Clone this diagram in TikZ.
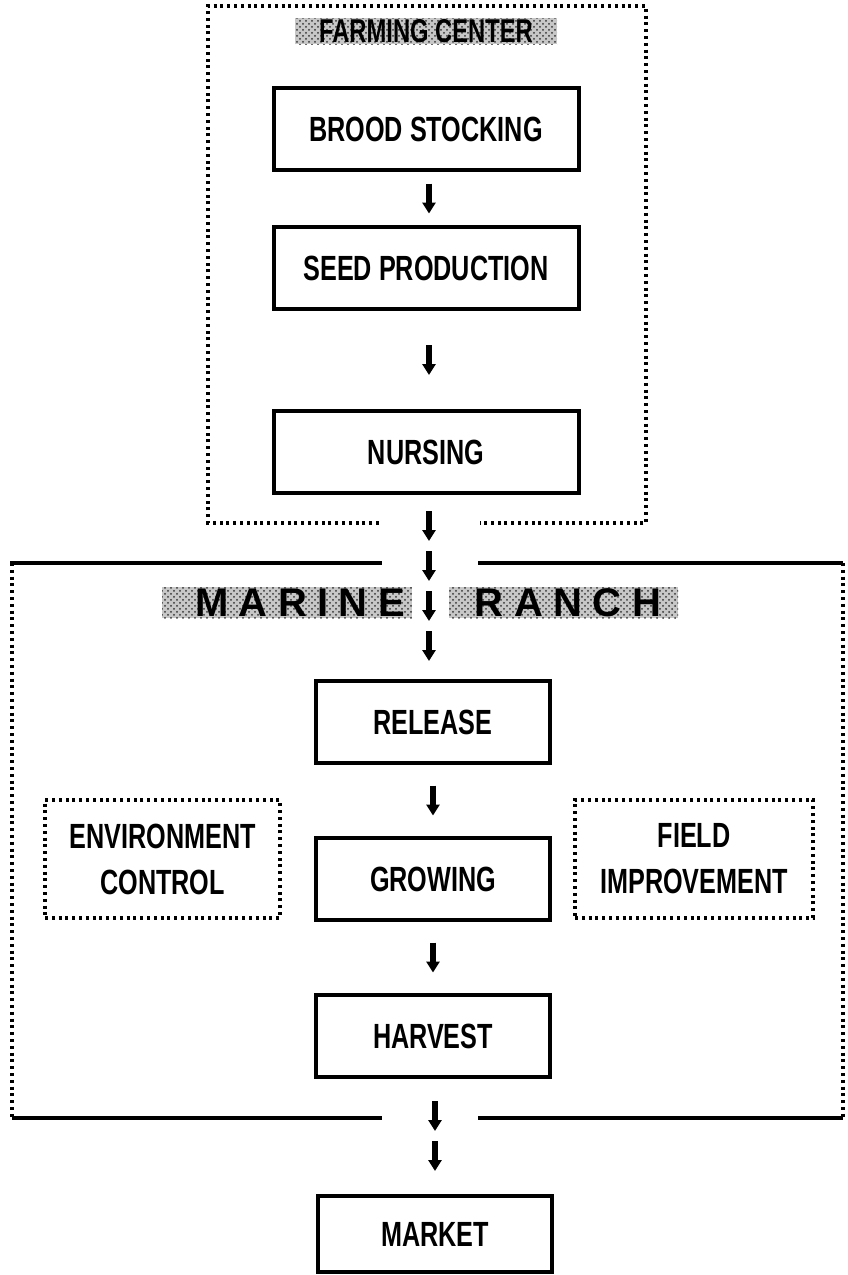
\documentclass[tikz,border=0pt]{standalone}
\usepackage{fontspec}
\setmainfont{Liberation Sans}[FakeStretch=0.72]
\newfontfamily\widefont{Liberation Sans}[LetterSpace=26]
\usetikzlibrary{arrows.meta,patterns,calc}
\begin{document}
\begin{tikzpicture}[x=0.5pt,y=-0.5pt,
  txt/.style={font=\bfseries\fontsize{17.5}{23}\selectfont},
  solidbox/.style={draw, line width=2pt, inner sep=0pt, txt, align=center},
  dotline/.style={line width=1.6pt, dash pattern=on 1.5pt off 1.9pt},
  dotbox/.style={draw, dotline, inner sep=0pt, txt, align=center},
  arr/.style={line width=2.6pt, -{Triangle[width=6.5pt,length=5.5pt]}},
  heavy/.style={line width=2.3pt},
  stipple/.style={fill=black!22, postaction={pattern=crosshatch dots, pattern color=black!80}, inner sep=0pt}
]
\useasboundingbox (0,0) rectangle (847,1275);

% Farming center frame
\draw[dotline] (379,523) -- (208,523) -- (208,6) -- (646,6) -- (646,523) -- (480,523);
\node[stipple, minimum width=131pt, minimum height=13pt] (fcbg) at (426,31) {};
\node[font=\bfseries\fontsize{16.5}{18}\selectfont] (fc) at (fcbg.center) {FARMING CENTER};

% Farming boxes
\node[solidbox, minimum width=152.5pt, minimum height=41pt] (brood) at (426,129) {BROOD STOCKING};
\node[solidbox, minimum width=152.5pt, minimum height=41pt] (seed) at (426,268) {SEED PRODUCTION};
\node[solidbox, minimum width=152.5pt, minimum height=41pt] (nurs) at (426,452) {NURSING};

\coordinate (m1) at ($(brood.south)!0.5!(seed.north)$);
\coordinate (m2) at ($(seed.south)!0.5!(nurs.north)$);
\draw[arr] ($(m1)+(3,-15)$) -- ($(m1)+(3,15)$);
\draw[arr] ($(m2)+(3,-15)$) -- ($(m2)+(3,15)$);

% Marine ranch frame
\draw[heavy] (10,563) -- (382,563);
\draw[heavy] (478,563) -- (843,563);
\draw[heavy] (12,1118) -- (382,1118);
\draw[heavy] (478,1118) -- (843,1118);
\draw[dotline] (12,563) -- (12,1118);
\draw[dotline] (843,563) -- (843,1118);

\node[stipple, minimum width=125pt, minimum height=15.5pt] (mbg) at (287,602.5) {};
\node[stipple, minimum width=114.5pt, minimum height=15.5pt] (rbg) at (563.5,602.5) {};
\node[font=\widefont\bfseries\fontsize{20}{21}\selectfont] (mar) at (300,603) {MARINE};
\node[font=\widefont\bfseries\fontsize{20}{21}\selectfont] (ran) at (568,603) {RANCH};

% Ranch boxes
\node[solidbox, minimum width=117pt, minimum height=41pt] (rel) at (433,722) {RELEASE};
\node[solidbox, minimum width=117pt, minimum height=41pt] (grow) at (433,879) {GROWING};
\node[solidbox, minimum width=117pt, minimum height=41pt] (harv) at (433,1036) {HARVEST};
\node[dotbox, minimum width=117.5pt, minimum height=59pt] (env) at (162.5,859) {ENVIRONMENT\\CONTROL};
\node[dotbox, minimum width=119pt, minimum height=59pt] (field) at (694,859) {FIELD\\IMPROVEMENT};

% arrows between nursing and release
\coordinate (a0) at ($(nurs.south)+(3,16)$);
\draw[arr] (a0) -- ++(0,30);
\draw[arr] ($(a0)+(0,40)$) -- ++(0,30);
\draw[arr] ($(a0)+(0,80)$) -- ++(0,30);
\draw[arr] ($(a0)+(0,120)$) -- ++(0,30);

\coordinate (m3) at ($(rel.south)!0.5!(grow.north)$);
\coordinate (m4) at ($(grow.south)!0.5!(harv.north)$);
\draw[arr] ($(m3)+(0,-15)$) -- ($(m3)+(0,15)$);
\draw[arr] ($(m4)+(0,-15)$) -- ($(m4)+(0,15)$);

% Market
\node[solidbox, minimum width=117pt, minimum height=38pt] (mkt) at (435,1234) {MARKET};
\coordinate (b0) at ($(mkt.north)+(0,-93)$);
\draw[arr] (b0) -- ++(0,30);
\draw[arr] ($(b0)+(0,40)$) -- ++(0,30);
\end{tikzpicture}
\end{document}
